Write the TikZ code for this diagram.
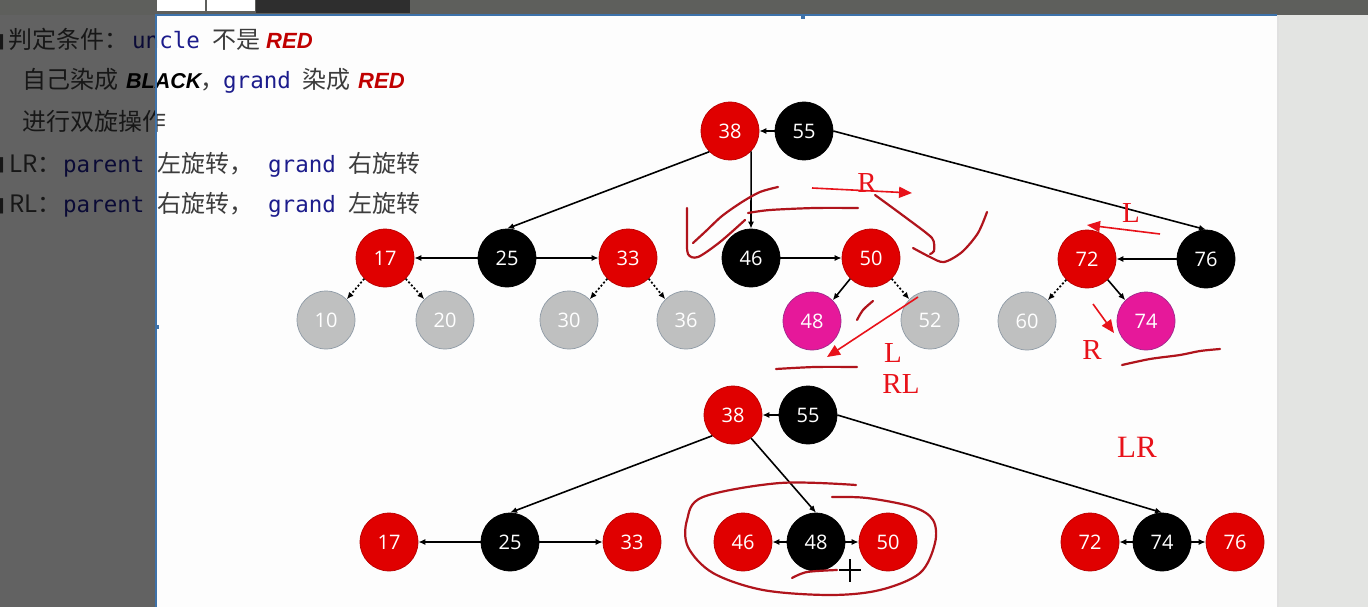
\documentclass[tikz,border=0pt]{standalone}
\usepackage{fontspec}
\usetikzlibrary{arrows.meta}
\newfontfamily\cjk{Noto Sans CJK SC}
\newfontfamily\monof{DejaVu Sans Mono}
\newfontfamily\numf{Open Sans}
\newfontfamily\emf{Liberation Sans}
\newfontfamily\handf{Liberation Serif}
\newfontfamily\symf{DejaVu Sans}
\newcommand\myfs[1]{\fontsize{#1}{#1}\selectfont}
\definecolor{slidewhite}{HTML}{FDFDFD}
\definecolor{topbar}{HTML}{5E5F5C}
\definecolor{panel}{HTML}{E3E4E2}
\definecolor{selblue}{HTML}{3D72AA}
\definecolor{txtgrey}{HTML}{3C3C3C}
\definecolor{navy}{HTML}{1C1C8C}
\definecolor{emred}{HTML}{C00000}
\definecolor{nodered}{HTML}{E00000}
\definecolor{nodereddk}{HTML}{B80000}
\definecolor{nodegrey}{HTML}{BFC0C0}
\definecolor{nodegreydk}{HTML}{8E9AA6}
\definecolor{nodemag}{HTML}{E6189A}
\definecolor{nodemagdk}{HTML}{9E2A8C}
\definecolor{inkdark}{HTML}{B0141C}
\definecolor{inkred}{HTML}{E8121A}
\begin{document}
\begin{tikzpicture}[x=1pt,y=-1pt,
  nd/.style={circle,minimum size=58pt,inner sep=0pt,text=white,line width=0.7pt,font=\numf\myfs{20pt}},
  rn/.style={nd,fill=nodered,draw=nodereddk},
  bn/.style={nd,fill=black,draw=black},
  gn/.style={nd,fill=nodegrey,draw=nodegreydk},
  mn/.style={nd,fill=nodemag,draw=nodemagdk},
  arr/.style={-{Latex[length=7pt,width=6pt]},line width=1.6pt,black},
  dotarr/.style={-{Latex[length=7pt,width=6pt]},line width=1.7pt,black,dash pattern=on 2pt off 2pt},
  tx/.style={anchor=base west,inner sep=0pt},
  cn/.style={tx,text=txtgrey,font=\cjk\myfs{24pt}},
  mono/.style={tx,text=navy,font=\monof\myfs{22.5pt}},
  emph/.style={tx,font=\emf\bfseries\itshape\myfs{22pt}},
  emphk/.style={tx,font=\emf\bfseries\itshape\myfs{21.5pt}},
  hand/.style={draw=inkdark,line width=2.2pt,line cap=round,line join=round},
  inkarrow/.style={draw=inkred,line width=1.6pt,-{Triangle[length=13pt,width=11pt]}},
  inktext/.style={text=inkred,font=\handf\myfs{29pt},inner sep=0pt}
]
\useasboundingbox (0,0) rectangle (1368,607);
% background
\fill[slidewhite] (0,0) rectangle (1368,607);
\fill[panel] (1277,15) rectangle (1368,607);
\fill[black!12] (1277,15) rectangle (1279,607);

% ---------- text lines ----------
\node[tx,font=\symf\myfs{20pt},text=txtgrey] (b1) at (-14,48) {■};
\node[cn] (t1a) at (8,49) {判定条件：};
\node[mono] (t1b) at (132,49) {uncle};
\node[cn] (t1c) at (212,49) {不是};
\node[emph,text=emred] (t1d) at (266,49) {RED};

\node[cn] (t2o) at (-9,89) {.};
\node[cn] (t2a) at (22,89) {自己染成};
\node[emphk,text=black] (t2b) at (126,89) {BLACK};
\node[cn] (t2c) at (200,89) {，};
\node[mono] (t2d) at (223,89) {grand};
\node[cn] (t2e) at (302,89) {染成};
\node[emph,text=emred] (t2f) at (358,89) {RED};

\node[cn] (t3o) at (-9,131) {.};
\node[cn] (t3a) at (22,131) {进行双旋操作};

\node[tx,font=\symf\myfs{20pt},text=txtgrey] (b4) at (-14,171) {■};
\node[cn] (t4a) at (9,172) {LR：};
\node[mono] (t4b) at (63,172) {parent};
\node[cn] (t4c) at (157,172) {左旋转，};
\node[mono] (t4d) at (268,172) {grand};
\node[cn] (t4e) at (348,172) {右旋转};

\node[tx,font=\symf\myfs{20pt},text=txtgrey] (b5) at (-14,211) {■};
\node[cn] (t5a) at (9,212) {RL：};
\node[mono] (t5b) at (63,212) {parent};
\node[cn] (t5c) at (157,212) {右旋转，};
\node[mono] (t5d) at (268,212) {grand};
\node[cn] (t5e) at (348,212) {左旋转};

% ---------- top tree ----------
\node[rn] (n38) at (730,131) {38};
\node[bn] (n55) at (804,131) {55};
\node[rn] (n17) at (385,258) {17};
\node[bn] (n25) at (507,258) {25};
\node[rn] (n33) at (628,258) {33};
\node[gn] (n10) at (326,320) {10};
\node[gn] (n20) at (445,320) {20};
\node[gn] (n30) at (569,320) {30};
\node[gn] (n36) at (686,320) {36};
\node[bn] (n46) at (751,258) {46};
\node[rn] (n50) at (871,258) {50};
\node[mn] (n48) at (812,321) {48};
\node[gn] (n52) at (930,320) {52};
\node[rn] (n72) at (1087,259) {72};
\node[bn] (n76) at (1206,259) {76};
\node[gn] (n60) at (1027,321) {60};
\node[mn] (n74) at (1146,321) {74};

\draw[arr] (n55) -- (n38);
\draw[arr] (n38.225) -- (n25.north);
\draw[arr] (n38.-44) -- (n46.north);
\draw[arr] (n55.east) -- (n76.north);
\draw[arr] (n25) -- (n17);
\draw[arr] (n25) -- (n33);
\draw[arr] (n46) -- (n50);
\draw[arr] (n76) -- (n72);
\draw[dotarr] (n17.225) -- (n10.45);
\draw[dotarr] (n17.-45) -- (n20.135);
\draw[dotarr] (n33.225) -- (n30.45);
\draw[dotarr] (n33.-45) -- (n36.135);
\draw[arr] (n50.225) -- (n48.45);
\draw[dotarr] (n50.-45) -- (n52.135);
\draw[dotarr] (n72.225) -- (n60.45);
\draw[arr] (n72.-45) -- (n74.135);

% ---------- bottom tree ----------
\node[rn] (m38) at (733,415) {38};
\node[bn] (m55) at (808,415) {55};
\node[rn] (m17) at (389,542) {17};
\node[bn] (m25) at (510,542) {25};
\node[rn] (m33) at (632,542) {33};
\node[rn] (m46) at (743,542) {46};
\node[bn] (m48) at (816,542) {48};
\node[rn] (m50) at (888,542) {50};
\node[rn] (m72) at (1090,542) {72};
\node[bn] (m74) at (1162,542) {74};
\node[rn] (m76) at (1235,542) {76};

\draw[arr] (m55) -- (m38);
\draw[arr] (m38.225) -- (m25.north);
\draw[arr] (m38.-52) -- (m48.north);
\draw[arr] (m55.east) -- (m74.north);
\draw[arr] (m25) -- (m17);
\draw[arr] (m25) -- (m33);
\draw[arr] (m48) -- (m46);
\draw[arr] (m48) -- (m50);
\draw[arr] (m74) -- (m72);
\draw[arr] (m74) -- (m76);

% ---------- hand annotations ----------
\draw[hand] plot[smooth,tension=0.5] coordinates {(687,208) (687,235) (688,254) (698,257) (720,242) (745,220)};
\draw[hand] plot[smooth,tension=0.5] coordinates {(693,243) (706,231) (722,216) (742,202) (760,192) (778,187)};
\draw[hand] plot[smooth,tension=0.5] coordinates {(748,213) (770,210) (815,208) (858,208)};
\draw[hand] plot[smooth,tension=0.4] coordinates {(875,195) (905,217) (932,238) (934,251) (930,254)};
\draw[hand] plot[smooth,tension=0.5] coordinates {(913,248) (930,257) (944,262) (962,252) (978,233) (987,212)};
\draw[hand] plot[smooth,tension=0.5] coordinates {(857,320) (863,310) (873,301)};
\draw[hand] plot[smooth,tension=0.5] coordinates {(776,369) (815,367) (857,367)};
\draw[hand] plot[smooth,tension=0.5] coordinates {(1122,365) (1150,359) (1180,355) (1200,351) (1220,349)};
\draw[hand] plot[smooth,tension=0.55] coordinates {(856,485) (780,483) (703,497) (687,520) (688,547) (713,573) (763,590) (830,595) (880,590) (920,573) (935,543) (933,520) (913,507) (867,498) (832,497)};
\draw[hand] plot[smooth,tension=0.5] coordinates {(792,578) (807,572) (837,570)};

\draw[inkarrow] (812,188) -- (912,193);
\draw[inkarrow] (918,297) -- (827,357);
\draw[inkarrow] (1160,234) -- (1087,225);
\draw[inkarrow] (1093,304) -- (1114,333);

\node[inktext] (lR1) at (867,183) {R};
\node[inktext] (lL1) at (893,353) {L};
\node[inktext] (lRL) at (901,384) {RL};
\node[inktext] (lL2) at (1131,213) {L};
\node[inktext] (lR2) at (1092,350) {R};
\node[inktext,font=\handf\myfs{31pt}] (lLR) at (1137,447) {LR};

% cursor
\draw[black,line width=1.6pt] (839,570) -- (861,570) (850,559) -- (850,582);

% ---------- window chrome ----------
\fill[black,opacity=0.61] (0,15) rectangle (155,607);
\fill[topbar] (0,0) rectangle (1368,15);
\fill[white] (157,0) rectangle (205,11);
\fill[white] (207,0) rectangle (255,11);
\fill[black!82] (256,0) rectangle (410,13);
\fill[selblue] (155,14.5) rectangle (1277,16.5);
\fill[selblue] (154.5,15) rectangle (156.5,607);
\fill[selblue] (801,15) rectangle (805,19);
\fill[selblue] (155,325) rectangle (159,329);
\end{tikzpicture}
\end{document}
